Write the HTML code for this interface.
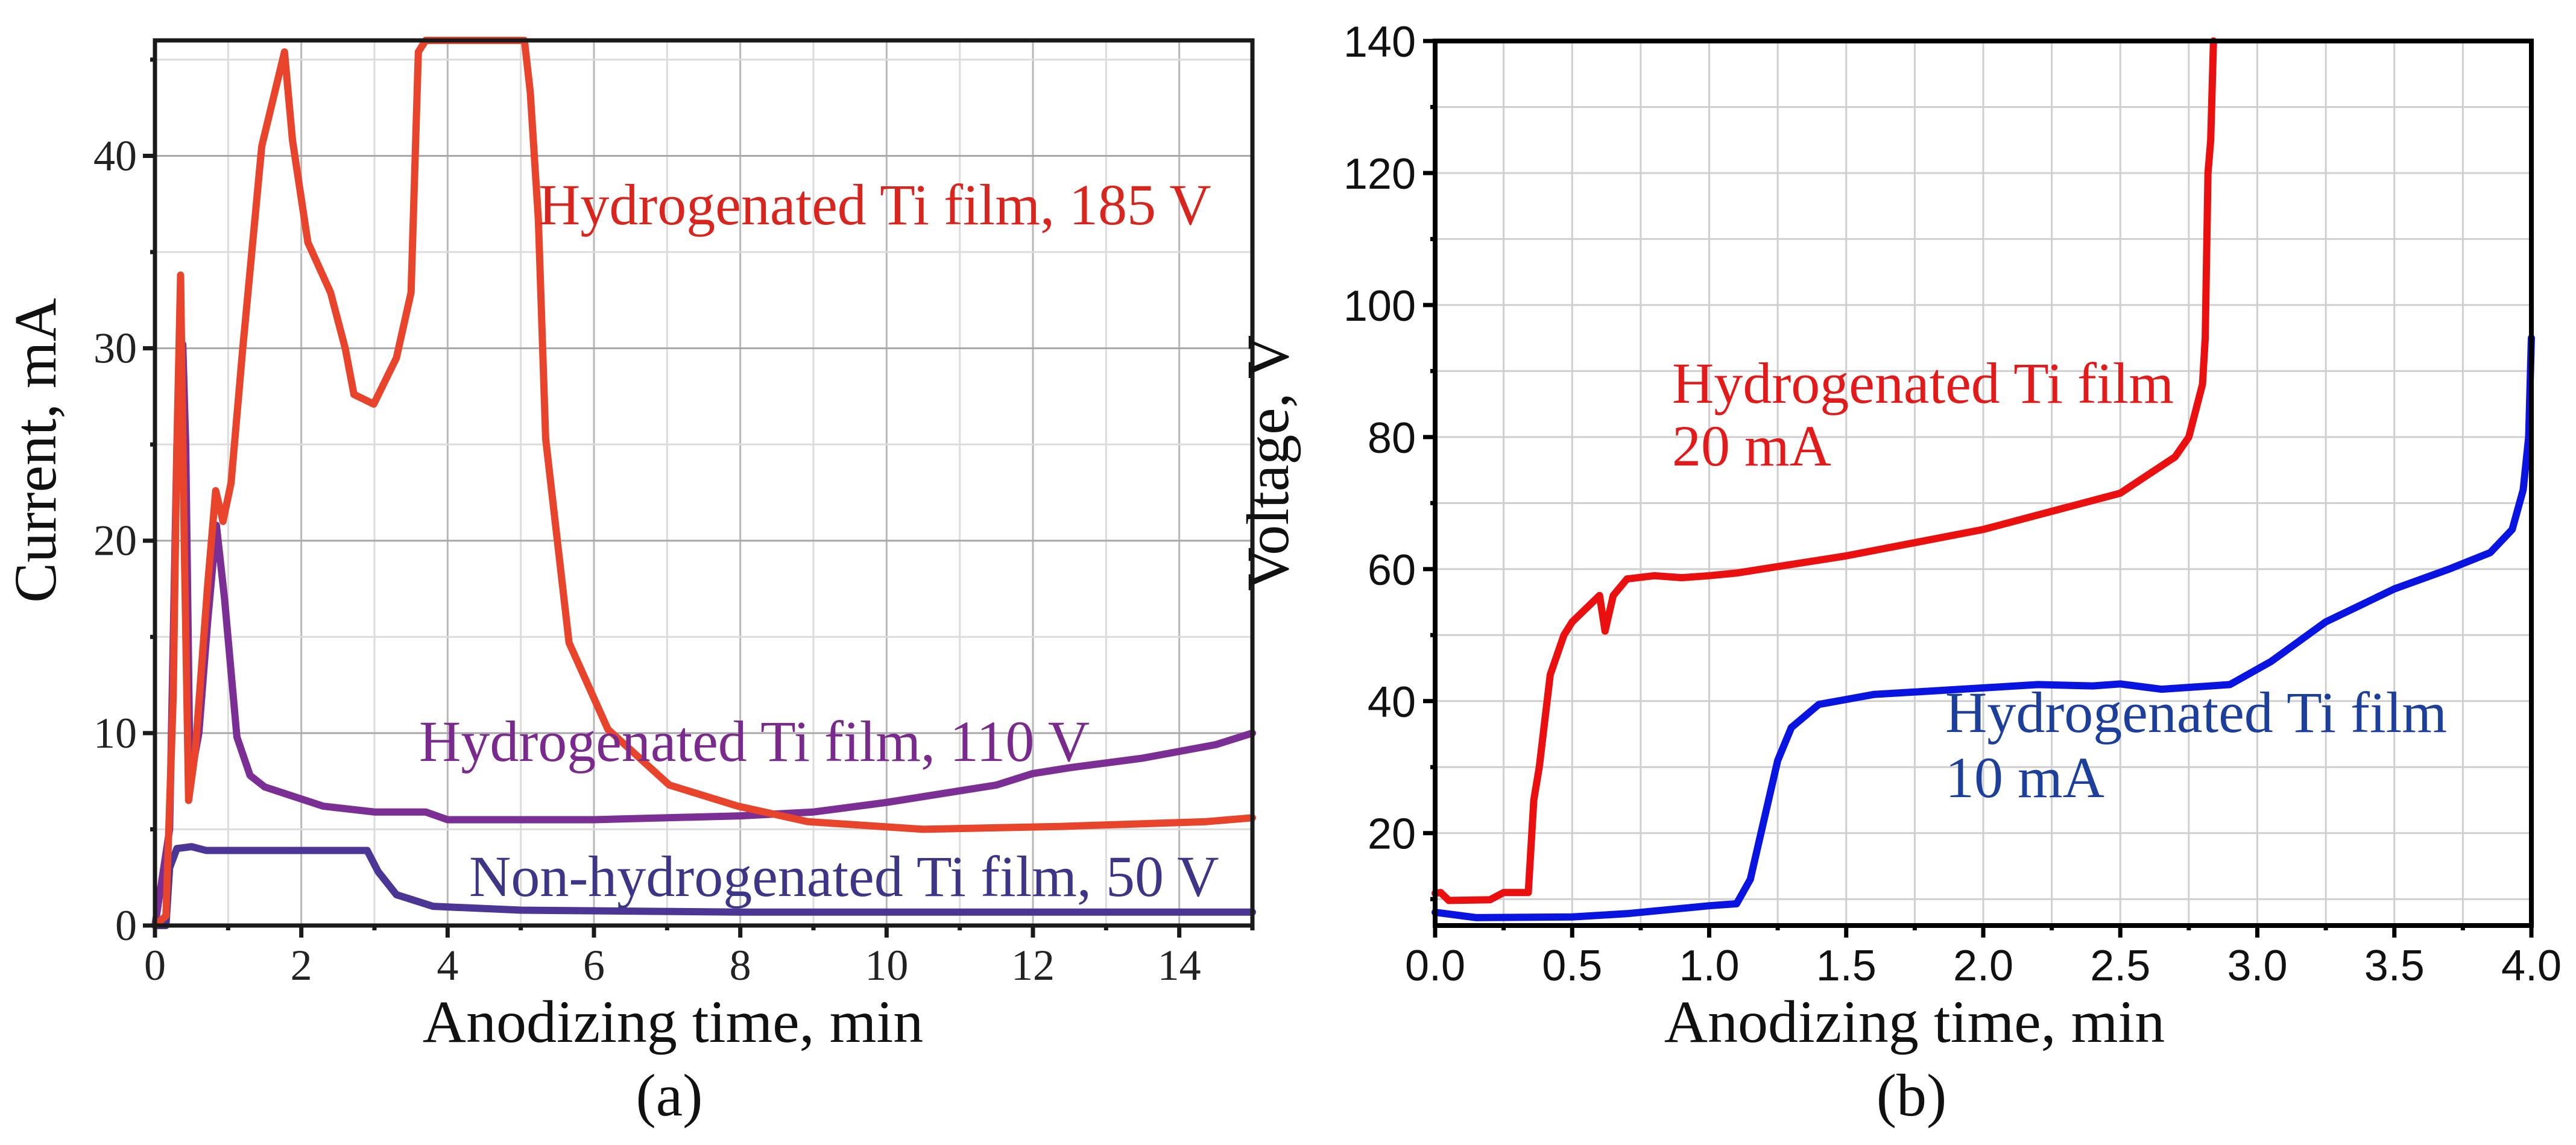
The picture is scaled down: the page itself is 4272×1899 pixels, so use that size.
<!DOCTYPE html>
<html><head><meta charset="utf-8"><style>
html,body{margin:0;padding:0;background:#fff;}
svg{display:block;}
</style></head><body>
<svg id="fig" width="4272" height="1899" viewBox="0 0 4272 1899" xmlns="http://www.w3.org/2000/svg"></svg>
<script>
// ---- Panel (a) data ----
const a_xTicks = [0,2,4,6,8,10,12,14];
const a_yTicks = [0,10,20,30,40];
const red185_t = [0,0.15,0.25,0.3,0.35,0.4,0.46,0.55,0.72,0.83,0.93,1.04,1.2,1.46,1.77,1.88,2.09,2.4,2.6,2.72,2.99,3.3,3.5,3.6,3.7,5.05,5.13,5.24,5.34,5.66,6.19,7.03,7.97,8.92,10.5,12.4,14.37,15];
const red185_v = [0,0.5,12,25,33.8,20,6.5,9,17.7,22.6,21,23,30,40.5,45.4,40.8,35.5,32.9,30,27.6,27.1,29.5,32.9,45.4,46,46,43.3,36.7,25.3,14.7,10.2,7.3,6.2,5.4,5.0,5.15,5.4,5.6];
const p110_t = [0,0.2,0.3,0.38,0.42,0.48,0.6,0.72,0.84,0.95,1.12,1.3,1.5,2.3,3,3.7,4,6,8,9,10,11,11.5,12,12.5,13.5,14.5,15];
const p110_v = [0,5,25,30.2,25,7.5,10,15.8,20.8,17,9.8,7.8,7.2,6.2,5.9,5.9,5.5,5.5,5.7,5.9,6.4,7,7.3,7.9,8.2,8.7,9.4,10];
const n50_t = [0,0.15,0.2,0.3,0.5,0.7,1.5,2.9,3.05,3.3,3.8,5,8,15];
const n50_v = [0,0,3,4,4.1,3.9,3.9,3.9,2.8,1.6,1.0,0.8,0.7,0.7];
// ---- Panel (b) data ----
const b_xTicks = [0,0.5,1,1.5,2,2.5,3,3.5,4];
const b_xLabels = ["0.0","0.5","1.0","1.5","2.0","2.5","3.0","3.5","4.0"];
const b_yTicks = [20,40,60,80,100,120,140];
const r20_t = [0,0.02,0.05,0.2,0.25,0.34,0.36,0.38,0.42,0.47,0.5,0.6,0.62,0.65,0.7,0.8,0.9,1.0,1.1,1.5,2.0,2.5,2.7,2.75,2.8,2.81,2.82,2.83,2.84];
const r20_v = [10.9,11,9.8,9.9,11,11,25,30,44,50,52,56,50.6,56,58.5,59,58.7,59,59.4,62,66,71.5,77,80,88,95,120,125,140];
const b10_t = [0,0.15,0.5,0.7,1.0,1.1,1.15,1.2,1.25,1.3,1.4,1.6,2.0,2.2,2.4,2.5,2.65,2.9,3.05,3.25,3.5,3.7,3.85,3.93,3.97,3.99,4.0];
const b10_v = [8,7.2,7.3,7.8,9,9.3,13,22,31,36,39.5,41,42,42.5,42.3,42.6,41.8,42.5,46,52,57,60,62.5,66,72,80,95];

const NS = "http://www.w3.org/2000/svg";
const svg = document.getElementById('fig');
function el(tag, attrs, parent){
  const e = document.createElementNS(NS, tag);
  for (const k in attrs) e.setAttribute(k, attrs[k]);
  (parent||svg).appendChild(e);
  return e;
}
const serif = '"Liberation Serif", serif';
const sans = '"Liberation Sans", sans-serif';

// ---------- Panel (a) ----------
const A = {x0:257, x1:2077, y0:1535, y1:67, xmin:0, xmax:15, ymin:0, ymax:46};
const ax = t => A.x0 + (t-A.xmin)/(A.xmax-A.xmin)*(A.x1-A.x0);
const ay = v => A.y0 - (v-A.ymin)/(A.ymax-A.ymin)*(A.y0-A.y1);

const gA = el('g', {});


for (let t=1; t<15; t++){
  const l = el('line', {x1:ax(t), x2:ax(t), y1:A.y1, y2:A.y0, stroke: t%2? '#dcdcdc':'#b8b8b8', 'stroke-width':3}, gA);
  
  
}
for (let v=5; v<46; v+=5){
  const l = el('line', {x1:A.x0, x2:A.x1, y1:ay(v), y2:ay(v), stroke: v%10? '#dcdcdc':'#a8a8a8', 'stroke-width':3}, gA);
  
  
}
function series(ts, vs, fx, fy, color, name, parent, w){
  const d = ts.map((t,i)=>(i?'L':'M')+fx(t).toFixed(1)+' '+fy(vs[i]).toFixed(1)).join(' ');
  const p = el('path', {d, fill:'none', stroke:color, 'stroke-width':w||12, 'stroke-linejoin':'round', 'stroke-linecap':'round'}, parent);
  
  
}
series(n50_t, n50_v, ax, ay, '#4b3696', 'series-non-hydrogenated-50v', gA);
series(p110_t, p110_v, ax, ay, '#7b2e93', 'series-hydrogenated-110v', gA);
series(red185_t, red185_v, ax, ay, '#e8432b', 'series-hydrogenated-185v', gA);
const frA = el('rect', {x:A.x0, y:A.y1, width:A.x1-A.x0, height:A.y0-A.y1, fill:'none', stroke:'#1a1a1a', 'stroke-width':7}, gA);


for (let t=0; t<=15; t++){
  const major = t%2===0;
  const l = el('line', {x1:ax(t), x2:ax(t), y1:A.y0, y2:A.y0+(major?20:8), stroke:'#1a1a1a', 'stroke-width':7}, gA);
  
  
}
a_xTicks.forEach(t=>{
  const tx = el('text', {x:ax(t), y:1625, 'font-family':serif, 'font-size':72, 'text-anchor':'middle', fill:'#222'}, gA);
  tx.textContent = t;
  
  
});
for (let v=0; v<=45; v+=5){
  const major = v%10===0;
  const l = el('line', {x1:A.x0-(major?20:8), x2:A.x0, y1:ay(v), y2:ay(v), stroke:'#1a1a1a', 'stroke-width':7}, gA);
  
  
}
a_yTicks.forEach(v=>{
  const tx = el('text', {x:A.x0-30, y:ay(v)+24, 'font-family':serif, 'font-size':72, 'text-anchor':'end', fill:'#222'}, gA);
  tx.textContent = v;
  
  
});
let t;
t = el('text', {x:1116, y:1728, 'font-family':serif, 'font-size':100, 'text-anchor':'middle', fill:'#111'}, gA);
t.textContent = 'Anodizing time, min';


t = el('text', {x:1110, y:1850, 'font-family':serif, 'font-size':100, 'text-anchor':'middle', fill:'#111'}, gA);
t.textContent = '(a)';


t = el('text', {x:0, y:0, 'font-family':serif, 'font-size':100, 'text-anchor':'middle', fill:'#111', transform:'translate(92 747) rotate(-90)'}, gA);
t.textContent = 'Current, mA';


t = el('text', {x:893, y:372, 'font-family':serif, 'font-size':96, fill:'#d8261e'}, gA);
t.textContent = 'Hydrogenated Ti film, 185 V';


t = el('text', {x:695, y:1262, 'font-family':serif, 'font-size':96, fill:'#7a2a8c'}, gA);
t.textContent = 'Hydrogenated Ti film, 110 V';


t = el('text', {x:778, y:1486, 'font-family':serif, 'font-size':96, fill:'#3d3585'}, gA);
t.textContent = 'Non-hydrogenated Ti film, 50 V';



// ---------- Panel (b) ----------
const B = {x0:2380, x1:4198, y0:1535, y1:68, xmin:0, xmax:4, ymin:6, ymax:140};
const bx = t => B.x0 + (t-B.xmin)/(B.xmax-B.xmin)*(B.x1-B.x0);
const by = v => B.y0 - (v-B.ymin)/(B.ymax-B.ymin)*(B.y0-B.y1);
const gB = el('g', {});


for (let i=1; i<16; i++){
  const l = el('line', {x1:bx(i*0.25), x2:bx(i*0.25), y1:B.y1, y2:B.y0, stroke:'#cfcfcf', 'stroke-width':3}, gB);
  
  
}
for (let v=10; v<140; v+=10){
  const l = el('line', {x1:B.x0, x2:B.x1, y1:by(v), y2:by(v), stroke:'#cfcfcf', 'stroke-width':3}, gB);
  
  
}
series(b10_t, b10_v, bx, by, '#0a14e0', 'series-10ma', gB);
series(r20_t, r20_v, bx, by, '#ea1010', 'series-20ma', gB);
const frB = el('rect', {x:B.x0, y:B.y1, width:B.x1-B.x0, height:B.y0-B.y1, fill:'none', stroke:'#000', 'stroke-width':8}, gB);


for (let i=0; i<=16; i++){
  const major = i%2===0;
  const l = el('line', {x1:bx(i*0.25), x2:bx(i*0.25), y1:B.y0, y2:B.y0+(major?20:8), stroke:'#000', 'stroke-width':7}, gB);
  
  
}
b_xTicks.forEach((v,i)=>{
  const tx = el('text', {x:bx(v), y:1626, 'font-family':sans, 'font-size':72, 'text-anchor':'middle', fill:'#111'}, gB);
  tx.textContent = b_xLabels[i];
  
  
});
for (let v=10; v<=140; v+=10){
  const major = v%20===0;
  const l = el('line', {x1:B.x0-(major?20:8), x2:B.x0, y1:by(v), y2:by(v), stroke:'#000', 'stroke-width':7}, gB);
  
  
}
b_yTicks.forEach(v=>{
  const tx = el('text', {x:B.x0-32, y:by(v)+26, 'font-family':sans, 'font-size':72, 'text-anchor':'end', fill:'#111'}, gB);
  tx.textContent = v;
  
  
});
t = el('text', {x:3175, y:1728, 'font-family':serif, 'font-size':100, 'text-anchor':'middle', fill:'#111'}, gB);
t.textContent = 'Anodizing time, min';


t = el('text', {x:3170, y:1850, 'font-family':serif, 'font-size':100, 'text-anchor':'middle', fill:'#111'}, gB);
t.textContent = '(b)';


t = el('text', {x:0, y:0, 'font-family':serif, 'font-size':100, 'text-anchor':'middle', fill:'#111', transform:'translate(2136 768) rotate(-90)'}, gB);
t.textContent = 'Voltage, V';


t = el('text', {x:2773, y:668, 'font-family':serif, 'font-size':96, fill:'#e21a1a'}, gB);
t.textContent = 'Hydrogenated Ti film';


t = el('text', {x:2773, y:772, 'font-family':serif, 'font-size':96, fill:'#e21a1a'}, gB);
t.textContent = '20 mA';


t = el('text', {x:3226, y:1214, 'font-family':serif, 'font-size':96, fill:'#1d3f9c'}, gB);
t.textContent = 'Hydrogenated Ti film';


t = el('text', {x:3226, y:1322, 'font-family':serif, 'font-size':96, fill:'#1d3f9c'}, gB);
t.textContent = '10 mA';


</script>
</body></html>
